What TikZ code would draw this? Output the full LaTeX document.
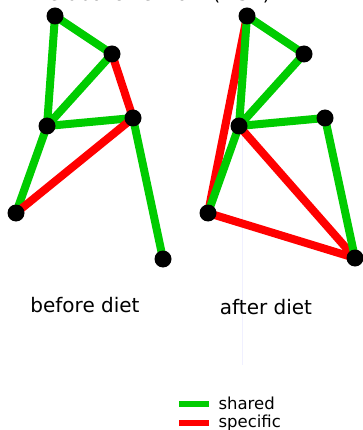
\documentclass[tikz,border=0pt]{standalone}
\usepackage{fontspec}
\setmainfont{DejaVu Sans}
\usetikzlibrary{backgrounds}
\definecolor{keepgreen}{RGB}{0,204,0}
\definecolor{dropred}{RGB}{255,0,0}

\begin{document}
\begin{tikzpicture}[x=1pt, y=-1pt,
    dot/.style={circle, fill=black, inner sep=0pt, minimum size=17pt},
    shared/.style={draw=keepgreen, line width=8pt},
    specific/.style={draw=dropred, line width=8pt},
    caption/.style={font=\fontsize{20}{24}\selectfont}]
    \useasboundingbox (0,0) rectangle (363,430);
    % cut-off heading
    \node[anchor=base, font=\fontsize{19}{22}\selectfont] (title) at (150,0.5) {metabolic network (MSN)};
    % before diet
    \node[dot] (a1) at (55,16) {};
    \node[dot] (b1) at (112,54) {};
    \node[dot] (c1) at (47,126) {};
    \node[dot] (d1) at (133,118) {};
    \node[dot] (e1) at (16,213) {};
    \node[dot] (f1) at (163,259) {};
    % after diet
    \node[dot] (a2) at (247,16) {};
    \node[dot] (b2) at (304,54) {};
    \node[dot] (c2) at (239,126) {};
    \node[dot] (d2) at (325,118) {};
    \node[dot] (e2) at (208,213) {};
    \node[dot] (f2) at (355,258) {};
    \begin{scope}[on background layer]
      \draw[blue!6, line width=1pt] (242,130) -- (242,365);
      \draw[shared] (a1.center) -- (b1.center);
      \draw[shared] (a1.center) -- (c1.center);
      \draw[shared] (b1.center) -- (c1.center);
      \draw[specific] (b1.center) -- (d1.center);
      \draw[shared] (c1.center) -- (d1.center);
      \draw[shared] (c1.center) -- (e1.center);
      \draw[specific] (e1.center) -- (d1.center);
      \draw[shared] (d1.center) -- (f1.center);
      \draw[specific] (a2.center) -- (e2.center);
      \draw[shared] (a2.center) -- (b2.center);
      \draw[shared] (a2.center) -- (c2.center);
      \draw[shared] (b2.center) -- (c2.center);
      \draw[shared] (c2.center) -- (d2.center);
      \draw[shared] (c2.center) -- (e2.center);
      \draw[specific] (c2.center) -- (f2.center);
      \draw[specific] (e2.center) -- (f2.center);
      \draw[shared] (d2.center) -- (f2.center);
    \end{scope}
    \node[caption] (before) at (85,305) {before diet};
    \node[caption] (after) at (266,307) {after diet};
    % legend
    \coordinate (g0) at (179,404);
    \coordinate (g1) at (209,404);
    \coordinate (r0) at (179,423);
    \coordinate (r1) at (209,423);
    \draw[shared, line width=6pt] (g0) -- (g1);
    \draw[specific, line width=6pt] (r0) -- (r1);
    \node[anchor=west, font=\fontsize{16.5}{19}\selectfont] (sh) at (215,403) {shared};
    \node[anchor=west, font=\fontsize{16.5}{19}\selectfont] (sp) at (215,423) {specific};
  \end{tikzpicture}
\end{document}
